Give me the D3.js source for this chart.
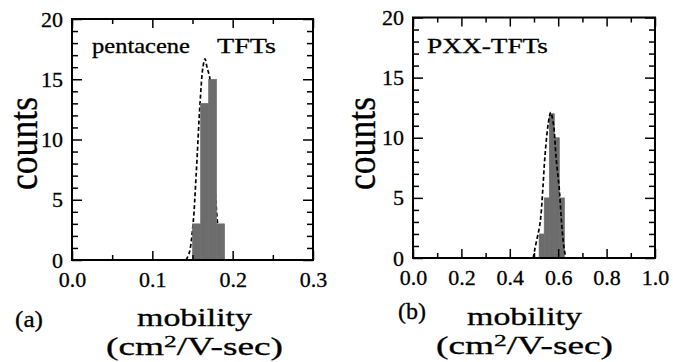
<!DOCTYPE html>
<html>
<head>
<meta charset="utf-8">
<script src="https://cdn.jsdelivr.net/npm/d3@7"></script>
<style>
  body { margin: 0; background: #fff; }
  svg text { font-family: "Liberation Serif", "Times New Roman", serif; fill: #000; stroke: #000; stroke-width: 0.3px; }
</style>
</head>
<body>
<svg id="chart" width="673" height="362"></svg>
<script>
// ---- data ----
// (a) pentacene TFTs
const binEdgesA = [0.15, 0.16, 0.17, 0.18, 0.19];
const countsA = [3, 13, 15, 3];
const fitXA = [0.142, 0.146, 0.1507, 0.1545, 0.1594, 0.163, 0.1656, 0.168, 0.1718, 0.175, 0.178, 0.182, 0.186, 0.19];
const fitYA = [0, 0.6, 3, 7, 13, 16, 16.7, 16.0, 15, 10.5, 6, 2.5, 0.5, 0];
// (b) PXX-TFTs
const binEdgesB = [0.521, 0.542, 0.563, 0.584, 0.605, 0.626];
const countsB = [2, 5, 12, 10, 5];
const fitXB = [0.497, 0.504, 0.525, 0.536, 0.545, 0.559, 0.569, 0.580, 0.591, 0.605, 0.614, 0.625, 0.632];
const fitYB = [0, 0.8, 2.9, 5.6, 8.4, 11.2, 12.1, 11.2, 8.4, 5.6, 2.9, 0.7, 0];

const yTicks = [0, 5, 10, 15, 20];
const xTicksA = [0.0, 0.1, 0.2, 0.3];
const xMinorA = [0.05, 0.15, 0.25];
const xTicksB = [0.0, 0.2, 0.4, 0.6, 0.8, 1.0];
const xMinorB = [0.1, 0.3, 0.5, 0.7, 0.9];

const svg = d3.select("#chart");

function panel(opt) {
	const x = d3.scaleLinear().domain(opt.xDomain).range(opt.xRange);
	const y = d3.scaleLinear().domain([0, 20]).range(opt.yRange);
	const g = svg.append("g");
	const [x0, x1] = opt.xRange;
	const [y0, y1] = opt.yRange; // y0 bottom, y1 top

	const bins = opt.counts.map((c, i) => ({x0: opt.edges[i], x1: opt.edges[i + 1], c: c}));
	const fit = opt.fitX.map((v, i) => [v, opt.fitY[i]]);
	const line = d3.line().x(d => x(d[0])).y(d => y(d[1])).curve(d3.curveCatmullRom);

	const drawFit = () => g.append("path")
		.attr("d", line(fit))
		.attr("fill", "none")
		.attr("stroke", "#000")
		.attr("stroke-width", 1.7)
		.attr("stroke-dasharray", "4,2.5");
	const drawBars = () => g.append("g").selectAll("rect")
		.data(bins).join("rect")
		.attr("x", d => x(d.x0))
		.attr("width", d => x(d.x1) - x(d.x0))
		.attr("y", d => y(d.c))
		.attr("height", d => y(0) - y(d.c))
		.attr("fill", "#6c6c6c")
		.attr("stroke", "#6c6c6c")
		.attr("stroke-width", 0.6);

	// in (a) the fit runs behind the bars, in (b) over them
	if (opt.fitOnTop) { drawBars(); drawFit(); } else { drawFit(); drawBars(); }

	const minorY = d3.range(0, 21).filter(v => v % 5 != 0);
	const style = a => a.selectAll("line").attr("stroke", "#000").attr("stroke-width", 1.5);

	// bottom
	g.append("g").attr("transform", `translate(0,${y0})`)
		.call(d3.axisBottom(x).tickValues(opt.xTicks).tickSize(-9).tickFormat(d3.format(".1f")))
		.call(a => a.select(".domain").remove())
		.call(style)
		.call(a => a.selectAll("text").attr("y", 27).attr("dy", null)
			.style("font-size", "22px"));
	g.append("g").attr("transform", `translate(0,${y0})`)
		.call(d3.axisBottom(x).tickValues(opt.xMinor).tickSize(-5).tickFormat(""))
		.call(a => a.select(".domain").remove()).call(style);
	// top
	g.append("g").attr("transform", `translate(0,${y1})`)
		.call(d3.axisTop(x).tickValues(opt.xTicks).tickSize(-9).tickFormat(""))
		.call(a => a.select(".domain").remove()).call(style);
	g.append("g").attr("transform", `translate(0,${y1})`)
		.call(d3.axisTop(x).tickValues(opt.xMinor).tickSize(-5).tickFormat(""))
		.call(a => a.select(".domain").remove()).call(style);
	// left
	g.append("g").attr("transform", `translate(${x0},0)`)
		.call(d3.axisLeft(y).tickValues(yTicks).tickSize(-10).tickPadding(9))
		.call(a => a.select(".domain").remove())
		.call(style)
		.call(a => a.selectAll("text").attr("x", -9)
			.style("font-size", "22px"));
	g.append("g").attr("transform", `translate(${x0},0)`)
		.call(d3.axisLeft(y).tickValues(minorY).tickSize(-6).tickFormat(""))
		.call(a => a.select(".domain").remove()).call(style);
	// right
	g.append("g").attr("transform", `translate(${x1},0)`)
		.call(d3.axisRight(y).tickValues(yTicks).tickSize(-10).tickFormat(""))
		.call(a => a.select(".domain").remove()).call(style);
	g.append("g").attr("transform", `translate(${x1},0)`)
		.call(d3.axisRight(y).tickValues(minorY).tickSize(-6).tickFormat(""))
		.call(a => a.select(".domain").remove()).call(style);

	// frame
	g.append("rect")
		.attr("x", x0).attr("y", y1)
		.attr("width", x1 - x0).attr("height", y0 - y1)
		.attr("fill", "none").attr("stroke", "#000").attr("stroke-width", 2);

	// in-plot labels
	opt.titles.forEach(t => {
		g.append("text").attr("x", t.x).attr("y", 53)
			.attr("textLength", t.w).attr("lengthAdjust", "spacingAndGlyphs")
			.style("font-size", "21px").text(t.s);
	});

	// y title
	g.append("text")
		.attr("transform", `translate(${opt.countsX},143.5) rotate(-90)`)
		.attr("text-anchor", "middle")
		.attr("textLength", 93).attr("lengthAdjust", "spacingAndGlyphs")
		.style("font-size", "41px")
		.text("counts");

	// x title
	g.append("text").attr("x", opt.titleCx).attr("y", opt.mobY)
		.attr("text-anchor", "middle")
		.attr("textLength", 115).attr("lengthAdjust", "spacingAndGlyphs")
		.style("font-size", "25px").text("mobility");
	const u = g.append("text").attr("x", opt.titleCx).attr("y", opt.mobY + 29)
		.attr("text-anchor", "middle")
		.attr("textLength", 177).attr("lengthAdjust", "spacingAndGlyphs")
		.style("font-size", "25px");
	u.append("tspan").text("(cm");
	u.append("tspan").attr("dy", -8).style("font-size", "17px").text("2");
	u.append("tspan").attr("dy", 8).text("/V-sec)");

	g.append("text").attr("x", opt.tagX).attr("y", opt.tagY)
		.attr("textLength", 28).attr("lengthAdjust", "spacingAndGlyphs")
		.style("font-size", "24px").text(opt.tag);
}

panel({
	xDomain: [0, 0.3], xRange: [72, 313], yRange: [260, 19],
	edges: binEdgesA, counts: countsA, fitX: fitXA, fitY: fitYA, fitOnTop: false,
	xTicks: xTicksA, xMinor: xMinorA,
	titles: [{s: "pentacene", x: 92, w: 98}, {s: "TFTs", x: 217, w: 59}],
	countsX: 36.5, titleCx: 194.5, mobY: 326, tag: "(a)", tagX: 15, tagY: 327
});
panel({
	xDomain: [0, 1], xRange: [413, 655], yRange: [258, 17.5],
	edges: binEdgesB, counts: countsB, fitX: fitXB, fitY: fitYB, fitOnTop: true,
	xTicks: xTicksB, xMinor: xMinorB,
	titles: [{s: "PXX-TFTs", x: 427, w: 121}],
	countsX: 375, titleCx: 524.5, mobY: 325, tag: "(b)", tagX: 398, tagY: 319
});
</script>
</body>
</html>
